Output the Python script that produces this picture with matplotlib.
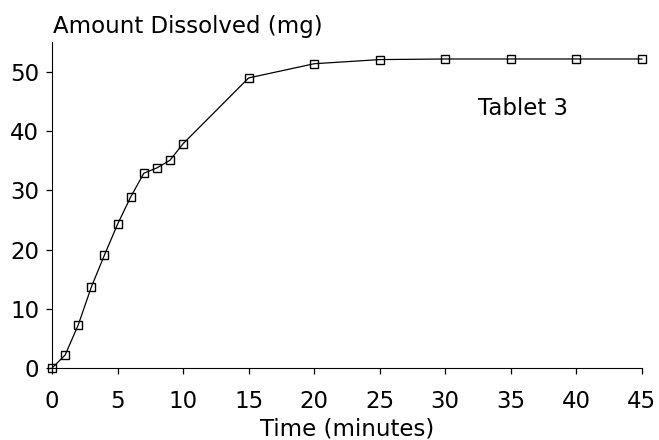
import matplotlib.pyplot as plt

# dissolution data for tablet 3
time_min = [0, 1, 2, 3, 4, 5, 6, 7, 8, 9, 10, 15, 20, 25, 30, 35, 40, 45]
amount_mg = [0, 2.2, 7.3, 13.7, 19.1, 24.3, 28.9, 32.9, 33.8, 35.1, 37.9,
             49.0, 51.4, 52.1, 52.2, 52.2, 52.2, 52.2]
x_ticks = [0, 5, 10, 15, 20, 25, 30, 35, 40, 45]
y_ticks = [0, 10, 20, 30, 40, 50]

plt.rcParams['font.family'] = ['DejaVu Sans']
fs = 16.5

fig = plt.figure(figsize=(6.59, 4.40), dpi=100)
ax = fig.add_axes([0.079, 0.1636, 0.895, 0.74])

ax.plot(time_min, amount_mg, color='black', linewidth=0.9,
        marker='s', markersize=6, markerfacecolor='none',
        markeredgecolor='black', markeredgewidth=1.0, clip_on=False)

ax.set_xlim(0, 45)
ax.set_ylim(0, 55)
ax.set_xticks(x_ticks)
ax.set_yticks(y_ticks)
ax.spines['top'].set_visible(False)
ax.spines['right'].set_visible(False)
ax.tick_params(direction='out', length=4.3, width=0.9, labelsize=fs)
ax.tick_params(axis='x', pad=11.5)
ax.tick_params(axis='y', pad=5)

fig.text(347 / 659, 1 - 435 / 440, 'Time (minutes)', fontsize=fs,
         ha='center', va='baseline')
fig.text(53 / 659, 1 - 33 / 440, 'Amount Dissolved (mg)', fontsize=fs,
         ha='left', va='baseline')
ax.text(32.5, 42.7, 'Tablet 3', fontsize=fs, ha='left', va='baseline')

fig.savefig('out.png', dpi=100)
